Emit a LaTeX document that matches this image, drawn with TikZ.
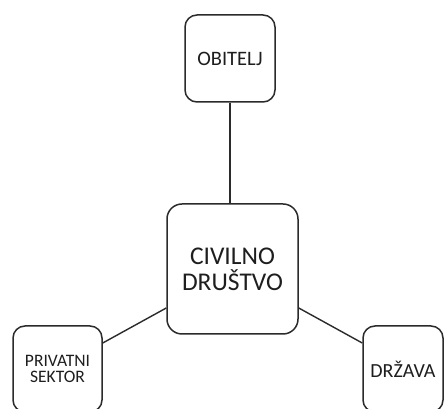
\documentclass[tikz,border=0pt]{standalone}
\usepackage{fontspec}
\setmainfont{Carlito}
\usetikzlibrary{calc}
\definecolor{linec}{HTML}{2B2B2B}
\definecolor{textc}{HTML}{1E1E1E}
\tikzset{
  box/.style={draw=linec, line width=1.5pt, rounded corners=#1, align=center, text=textc, inner sep=0pt},
  box/.default=12pt,
  conn/.style={draw=linec, line width=1.4pt}
}
\begin{document}
\begin{tikzpicture}[x=1pt,y=1pt]
\fill[white] (0,0) rectangle (445,409);
\useasboundingbox (0,0) rectangle (445,409);
\clip (0,0) rectangle (445,409);
\node[box, minimum width=90pt, minimum height=87pt, font=\fontsize{20.5}{22}\selectfont] (obi) at (230,350.5) {OBITELJ};
\node[box=15pt, minimum width=131pt, minimum height=130pt, font=\fontsize{25.5}{26}\selectfont] (civ) at (232.5,140) {CIVILNO\\DRUŠTVO};
\node[box, minimum width=89pt, minimum height=86pt, font=\fontsize{17.5}{16.5}\selectfont] (priv) at (57.5,40) {PRIVATNI\\SEKTOR};
\node[box, minimum width=80pt, minimum height=86pt, font=\fontsize{20}{22}\selectfont] (drz) at (403,40) {DRŽAVA};
\draw[conn] (obi.south) -- (civ.north -| obi.south);
\draw[conn] ($(civ.west)+(0,-39)$) -- ($(priv.east)+(0,26)$);
\draw[conn] ($(civ.east)+(0,-39)$) -- ($(drz.west)+(0,26)$);
\end{tikzpicture}
\end{document}
